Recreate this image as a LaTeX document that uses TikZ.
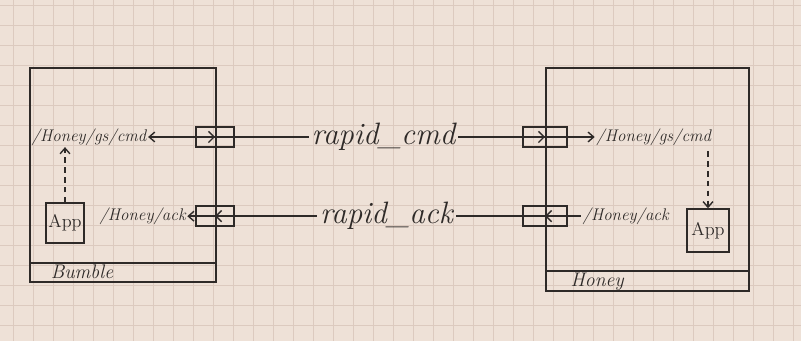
\documentclass[tikz,border=0pt]{standalone}
\usepackage{tikz}
\usetikzlibrary{arrows.meta,positioning,calc}
\definecolor{paper}{HTML}{EEE1D7}
\definecolor{gridline}{HTML}{DCCABF}
\definecolor{ink}{HTML}{2E2A28}

\begin{document}
\begin{tikzpicture}[
  frame/.style={draw=ink, line width=1.2pt, inner sep=0pt},
  port/.style={draw=ink, line width=1pt, minimum height=0.5cm, inner sep=0pt},
  appbox/.style={draw=ink, line width=1pt, font=\fontsize{13}{15}\selectfont, text=ink, inner sep=0pt},
  topic/.style={font=\fontsize{12}{14}\selectfont\itshape, inner sep=1pt, text=ink},
  link/.style={font=\fontsize{22}{24}\selectfont\itshape, inner sep=2pt, text=ink},
  host/.style={font=\fontsize{14}{16}\selectfont\itshape, inner sep=0pt, text=ink},
  wire/.style={draw=ink, line width=1pt},
  arr/.style={wire, -{Straight Barb[length=4pt,width=7pt]}},
  chev/.style={wire, -{Straight Barb[length=4pt,width=8pt]}},
  dasharr/.style={arr, dashed, dash pattern=on 4pt off 3pt}
]
  \useasboundingbox (0,0) rectangle (20.025,8.525);
  % graph paper
  \fill[paper] (0,0) rectangle (20.025,8.525);
  \foreach \x in {0,...,39} \draw[gridline, line width=0.6pt] (0.325+0.5*\x,0) -- ++(0,8.525);
  \foreach \y in {0,...,16} \draw[gridline, line width=0.6pt] (0,0.4+0.5*\y) -- ++(20.025,0);

  % hosts
  \node[frame, minimum width=4.65cm, minimum height=5.35cm] (bumble) at (3.075,4.15) {};
  \node[frame, minimum width=5.075cm, minimum height=5.575cm] (honey) at (16.1875,4.0375) {};
  \draw[frame] ($(bumble.south west)+(0,0.5)$) -- ($(bumble.south east)+(0,0.5)$);
  \draw[frame] ($(honey.south west)+(0,0.525)$) -- ($(honey.south east)+(0,0.525)$);
  \node[host] (bumblename) at (2.05,1.725) {Bumble};
  \node[host] (honeyname)  at (14.93,1.48) {Honey};

  % ports on the host edges
  \node[port, minimum width=0.95cm] (bcmd) at (5.375,5.1) {};
  \node[port, minimum width=0.95cm] (back) at (5.375,3.12) {};
  \node[port, minimum width=1.1cm]  (hcmd) at (13.625,5.1) {};
  \node[port, minimum width=1.1cm]  (hack) at (13.625,3.12) {};

  % topics
  \node[topic, left=1.18cm of bcmd]  (bcmdtopic) {/Honey/gs/cmd};
  \node[topic, left=0.2cm of back]   (backtopic) {/Honey/ack};
  \node[topic, right=0.675cm of hcmd] (hcmdtopic) {/Honey/gs/cmd};
  \node[topic, right=0.33cm of hack] (hacktopic) {/Honey/ack};

  % apps
  \node[appbox, minimum width=0.95cm, minimum height=1.0cm]   (bapp) at (1.625,2.95) {App};
  \node[appbox, minimum width=1.05cm, minimum height=1.075cm] (happ) at (17.7,2.7625) {App};

  % links
  \node[link] (rcmd) at (9.5875,5.1) {rapid\_cmd};
  \node[link] (rack) at (9.66,3.12) {rapid\_ack};

  \draw[wire]  (rcmd) -- (bcmd.east);
  \draw[arr]   (bcmd.east) -- (bcmdtopic.east);
  \draw[chev]  (bcmd.west) -- (bcmd.center);
  \draw[wire]  (rcmd) -- (hcmd.west);
  \draw[arr]   (hcmd.west) -- (hcmdtopic.west);
  \draw[chev]  (hcmd.west) -- (hcmd.center);

  \draw[wire]  (hacktopic.west) -- (hack.west);
  \draw[chev]  (hack.east) -- (hack.center);
  \draw[wire]  (hack.west) -- (rack);
  \draw[wire]  (rack) -- (back.east);
  \draw[arr]   (back.east) -- (backtopic.east);
  \draw[chev]  (back.east) -- (back.center);

  \draw[dasharr] (bapp.north) -- (bapp.north |- bcmdtopic.south);
  \draw[dasharr, shorten <=3pt] (hcmdtopic.south -| happ.north) -- (happ.north);
\end{tikzpicture}
\end{document}
